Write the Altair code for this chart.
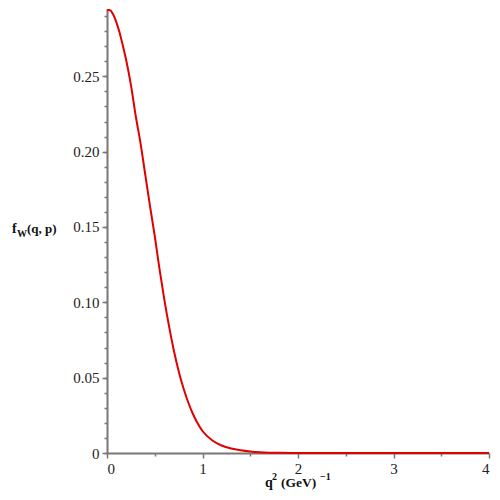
import altair as alt
import pandas as pd

# values
q2 = [0.0, 0.01, 0.02, 0.04, 0.06, 0.08, 0.1, 0.125, 0.15, 0.175, 0.2, 0.25, 0.3,
      0.35, 0.4, 0.45, 0.5, 0.55, 0.6, 0.65, 0.7, 0.75, 0.8, 0.85, 0.9, 0.95, 1.0,
      1.1, 1.2, 1.3, 1.4, 1.5, 1.6, 1.7, 1.8, 2.0, 2.5, 3.0, 3.5, 4.0]
fw = [0.2935, 0.294, 0.294, 0.2935, 0.2915, 0.289, 0.2855, 0.2805, 0.2745, 0.268,
      0.261, 0.2445, 0.224, 0.206, 0.185, 0.164, 0.144, 0.122, 0.102, 0.084,
      0.0680, 0.0544, 0.0431, 0.0337, 0.0259, 0.0196, 0.0146, 0.0085, 0.0050,
      0.0030, 0.0018, 0.0010, 0.0005, 0.0002, 0.0001, 0.0, 0.0, 0.0, 0.0, 0.0]

y_major = [0, 0.05, 0.10, 0.15, 0.20, 0.25]
y_minor = [round(i * 0.01, 2) for i in range(0, 30)]
x_major = [0, 1, 2, 3, 4]
x_minor = [0.5, 1.5, 2.5, 3.5]

df = pd.DataFrame({"q2": q2, "fw": fw})

W, H = 382, 443
AX = "#777777"
FONT = "Liberation Serif"

xs = alt.Scale(domain=[0, 4], nice=False)
ys = alt.Scale(domain=[0, 0.294], nice=False, zero=True)

minor = alt.Chart(df).mark_line(opacity=0).encode(
    x=alt.X("q2:Q", scale=xs, axis=alt.Axis(
        orient="bottom", values=x_minor, title=None, labels=False, domain=False,
        tickColor=AX, tickWidth=1.5, tickSize=3, grid=False)),
    y=alt.Y("fw:Q", scale=ys, axis=alt.Axis(
        orient="left", values=y_minor, title=None, labels=False, domain=False,
        tickColor=AX, tickWidth=1.5, tickSize=3, grid=False)),
)

line = alt.Chart(df).mark_line(color="#e00000", strokeWidth=2, clip=False,
                               interpolate="monotone").encode(
    x=alt.X("q2:Q", scale=xs, axis=alt.Axis(
        orient="bottom", values=x_major, title=None, domainColor=AX, domainWidth=2,
        tickColor=AX, tickWidth=1.5, tickSize=5, labelFont=FONT, labelFontSize=15,
        labelColor="#222", labelPadding=3, grid=False, format="d")),
    y=alt.Y("fw:Q", scale=ys, axis=alt.Axis(
        orient="left", values=y_major, title=None, domainColor=AX, domainWidth=2,
        tickColor=AX, tickWidth=1.5, tickSize=5, labelFont=FONT, labelFontSize=15,
        labelColor="#222", labelPadding=3, grid=False,
        labelExpr="datum.value == 0 ? '0' : format(datum.value, '.2f')")),
)

def txt(s, x, y, size=14):
    return alt.Chart(pd.DataFrame({"t": [s]})).mark_text(
        font=FONT, fontSize=size, fontWeight="bold", align="left",
        baseline="alphabetic", color="#111").encode(
        x=alt.value(x), y=alt.value(y), text="t:N")

titles = [
    txt("f", -95, 223), txt("W", -90, 227, 10), txt("(q, p)", -80, 223, 13),
    txt("q", 158, 477), txt("2", 165, 470, 10), txt("(GeV)", 174, 477, 13.5),
    txt("−1", 213, 470, 10),
]

chart = alt.layer(minor, line, *titles).resolve_axis(
    x="independent", y="independent"
).properties(
    width=W, height=H,
    background="white",
    autosize=alt.AutoSizeParams(type="none"),
    padding={"left": 99, "top": 2, "right": 3, "bottom": 39},
).configure_view(strokeWidth=0, stroke="transparent")

chart.save("out.html", embed_options={"renderer": "svg", "actions": False})
